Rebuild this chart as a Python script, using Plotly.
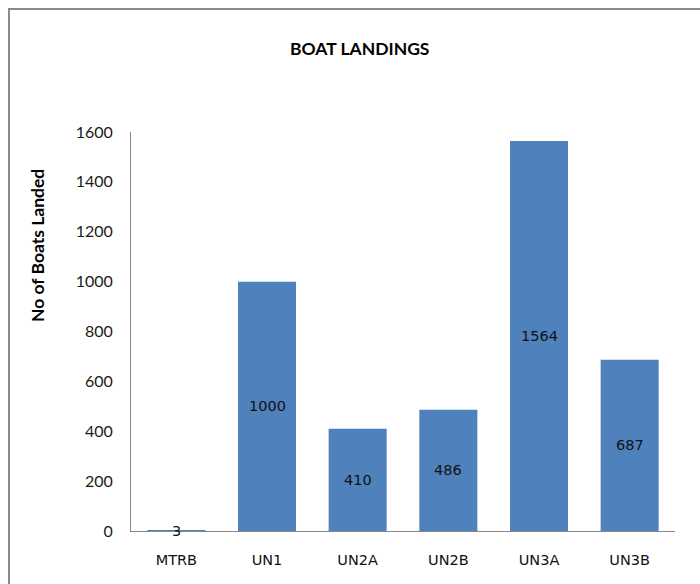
import plotly.graph_objects as go

# Boat landings per vessel class
categories = ["MTRB", "UN1", "UN2A", "UN2B", "UN3A", "UN3B"]
boats_landed = [3, 1000, 410, 486, 1564, 687]

W, H = 700, 584
ML, MR, MT, MB = 131, 25, 132, 53
pw, ph = W - ML - MR, H - MT - MB

fig = go.Figure()
fig.add_trace(go.Bar(
    x=categories,
    y=boats_landed,
    marker=dict(color="#4F81BD", line=dict(color="#4F81BD", width=0)),
    hoverinfo="x+y",
))

# value labels centred on each bar
for cat, val in zip(categories, boats_landed):
    fig.add_annotation(
        x=cat, y=val / 2, xref="x", yref="y",
        text=str(val), showarrow=False,
        font=dict(family="DejaVu Sans", size=14.5, color="#111111"),
        yanchor="middle", xanchor="center",
    )

# chart title
fig.add_annotation(
    x=(359 - ML) / pw, y=(H - MB - 48) / ph,
    xref="paper", yref="paper", text="<b>BOAT LANDINGS</b>",
    showarrow=False, font=dict(family="Lato", size=17.5, color="#000000"),
    xanchor="center", yanchor="middle",
)

# y-axis title
fig.add_annotation(
    x=(37 - ML) / pw, y=(H - MB - 246) / ph,
    xref="paper", yref="paper", text="<b>No of Boats Landed</b>",
    textangle=-90, showarrow=False,
    font=dict(family="Lato", size=17.5, color="#000000"),
    xanchor="center", yanchor="middle",
)

# outer chart frame (only its top and left edges fall inside the page)
fig.add_shape(
    type="rect", xref="paper", yref="paper",
    x0=(9 - ML) / pw, x1=(W + 60 - ML) / pw,
    y0=-(MB + 60) / ph, y1=(H - MB - 9) / ph,
    line=dict(color="#8a8a8a", width=2), fillcolor="rgba(0,0,0,0)",
    layer="above",
)

fig.update_layout(
    width=W, height=H,
    margin=dict(l=ML, r=MR, t=MT, b=MB),
    paper_bgcolor="white", plot_bgcolor="white",
    showlegend=False,
    bargap=0.36,
    xaxis=dict(
        type="category", range=[-0.5, 5.5],
        showline=True, linecolor="#868686", linewidth=1,
        showgrid=False, ticks="", zeroline=False,
        tickfont=dict(family="DejaVu Sans", size=14.5, color="#111111"),
        ticklabelstandoff=16,
    ),
    yaxis=dict(
        range=[0, 1600], tickvals=[0, 200, 400, 600, 800, 1000, 1200, 1400, 1600],
        showline=True, linecolor="#868686", linewidth=1,
        showgrid=False, ticks="", zeroline=False,
        tickfont=dict(family="Lato", size=16, color="#1a1a1a"),
        ticklabelstandoff=14,
    ),
)

fig.write_html("out.html")
